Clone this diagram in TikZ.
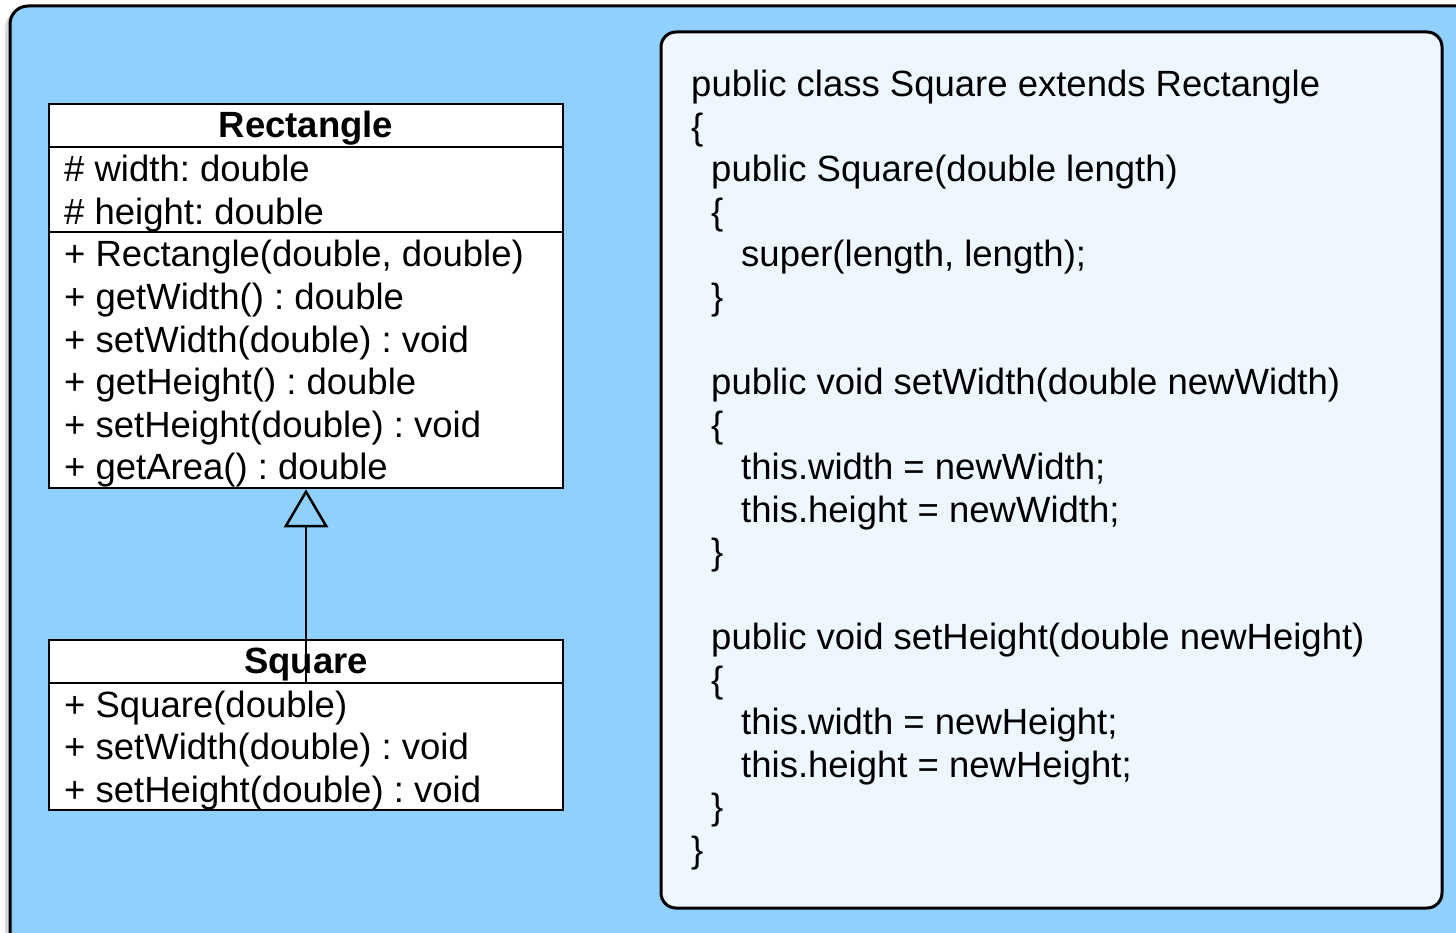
\documentclass[tikz,border=0pt]{standalone}
\usepackage{fontspec}
\setmainfont{Liberation Sans}
\usetikzlibrary{arrows.meta}
\definecolor{bgblue}{RGB}{143,208,255}
\definecolor{panel}{RGB}{238,246,255}
\frenchspacing
\tikzset{
  txt/.style={anchor=base west, inner sep=0pt, font=\fontsize{36.5}{42}\selectfont\frenchspacing},
  ttl/.style={anchor=base, inner sep=0pt, font=\fontsize{36.5}{42}\selectfont\bfseries},
  umlbox/.style={draw=black, fill=white, line width=2.5pt, inner sep=0pt},
  sep/.style={line width=2.5pt},
}
\begin{document}
\begin{tikzpicture}[x=1pt,y=-1pt]
\useasboundingbox (0,0) rectangle (1456,933);
% shadow and outer frame
\fill[black!25, opacity=0.6] (5,10) [rounded corners=18pt] rectangle (1480,960);
\draw[line width=3pt, fill=bgblue, rounded corners=18pt] (10,6) rectangle (1480,960);
% code panel
\draw[line width=3pt, fill=panel, rounded corners=15pt] (661,32) rectangle (1442,908);

% Rectangle class
\node[umlbox, minimum width=514pt, minimum height=384pt] (rect) at (306,296) {};
\draw[sep] (rect.west |- 0,147) -- (rect.east |- 0,147);
\draw[sep] (rect.west |- 0,232) -- (rect.east |- 0,232);
\node[ttl] (rtitle) at (306,138) {Rectangle};
\node[txt] (r1) at (64,182) {\# width: double};
\node[txt] (r2) at (64,224.5) {\# height: double};
\node[txt] (r3) at (64,267) {+ Rectangle(double, double)};
\node[txt] (r4) at (64,309.5) {+ getWidth() : double};
\node[txt] (r5) at (64,352) {+ setWidth(double) : void};
\node[txt] (r6) at (64,394.5) {+ getHeight() : double};
\node[txt] (r7) at (64,437) {+ setHeight(double) : void};
\node[txt] (r8) at (64,479.5) {+ getArea() : double};

% Square class
\node[umlbox, minimum width=514pt, minimum height=170pt] (sq) at (306,725) {};
\draw[sep] (sq.west |- 0,683) -- (sq.east |- 0,683);
\node[ttl] (stitle) at (306,673) {Square};
\node[txt] (s1) at (64,717) {+ Square(double)};
\node[txt] (s2) at (64,759.5) {+ setWidth(double) : void};
\node[txt] (s3) at (64,802) {+ setHeight(double) : void};

% generalization
\coordinate (sqsep) at (306,683);
\draw[line width=2.5pt, -{Triangle[open, length=38pt, width=44pt, line width=2.5pt]}] (sqsep) -- (rect.south);

% code
\node[txt] (c1) at (691,97) {public class Square extends Rectangle};
\node[txt] (c2) at (691,139.5) {\{};
\node[txt] (c3) at (711,182) {public Square(double length)};
\node[txt] (c4) at (711,224.5) {\{};
\node[txt] (c5) at (741,267) {super(length, length);};
\node[txt] (c6) at (711,309.5) {\}};
\node[txt] (c8) at (711,394.5) {public void setWidth(double newWidth)};
\node[txt] (c9) at (711,437) {\{};
\node[txt] (c10) at (741,479.5) {this.width = newWidth;};
\node[txt] (c11) at (741,522) {this.height = newWidth;};
\node[txt] (c12) at (711,564.5) {\}};
\node[txt] (c14) at (711,649.5) {public void setHeight(double newHeight)};
\node[txt] (c15) at (711,692) {\{};
\node[txt] (c16) at (741,734.5) {this.width = newHeight;};
\node[txt] (c17) at (741,777) {this.height = newHeight;};
\node[txt] (c18) at (711,819.5) {\}};
\node[txt] (c19) at (691,862) {\}};
\end{tikzpicture}
\end{document}
